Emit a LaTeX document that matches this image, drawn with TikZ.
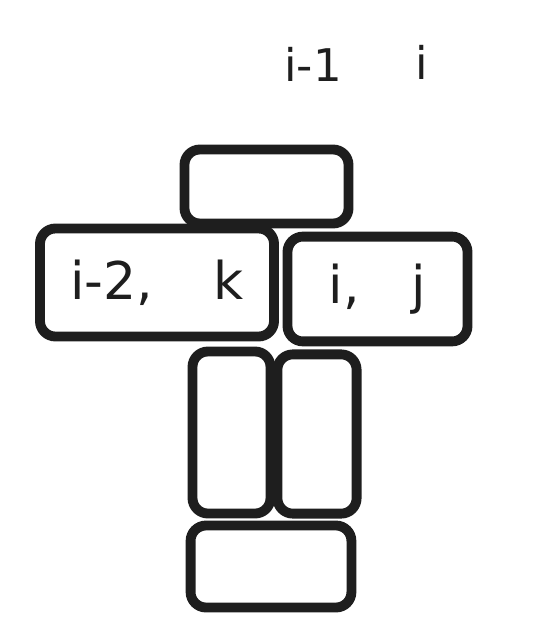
\documentclass[tikz,border=0pt]{standalone}
\usepackage{fontspec}
\setmainfont{DejaVu Sans}
\definecolor{ink}{HTML}{1E1E1E}
\tikzset{
	cell/.style = {draw = ink, text = ink, line width = 7pt, rounded corners = 11pt, inner sep = 0pt, font = \fontsize{37}{40}\selectfont},
	idx/.style = {text = ink, inner sep = 0pt, font = \fontsize{32}{36}\selectfont}
}
\begin{document}
\begin{tikzpicture}[x = 0.025cm, y = -0.025cm]
		\useasboundingbox (0,0) rectangle (533,631);
		\node[idx] (colprev) at (313,64) {i-1};
		\node[idx] (colcur) at (422,62) {i};
		\node[cell, minimum width = 4.1cm, minimum height = 1.85cm] (upper) at (266.5,186.5) {};
		\node[cell, minimum width = 5.85cm, minimum height = 2.7cm] (ik) at (157,282.5) {i-2,\hspace{1.5cm}k};
		\node[cell, minimum width = 4.5cm, minimum height = 2.62cm] (ij) at (377.5,289) {i,\hspace{1.3cm}j};
		\node[cell, minimum width = 1.95cm, minimum height = 4.05cm] (tallleft) at (231.5,432.5) {};
		\node[cell, minimum width = 1.98cm, minimum height = 3.98cm] (tallright) at (317,434) {};
		\node[cell, minimum width = 4.02cm, minimum height = 2.05cm] (lower) at (271,566.5) {};
	\end{tikzpicture}
\end{document}
